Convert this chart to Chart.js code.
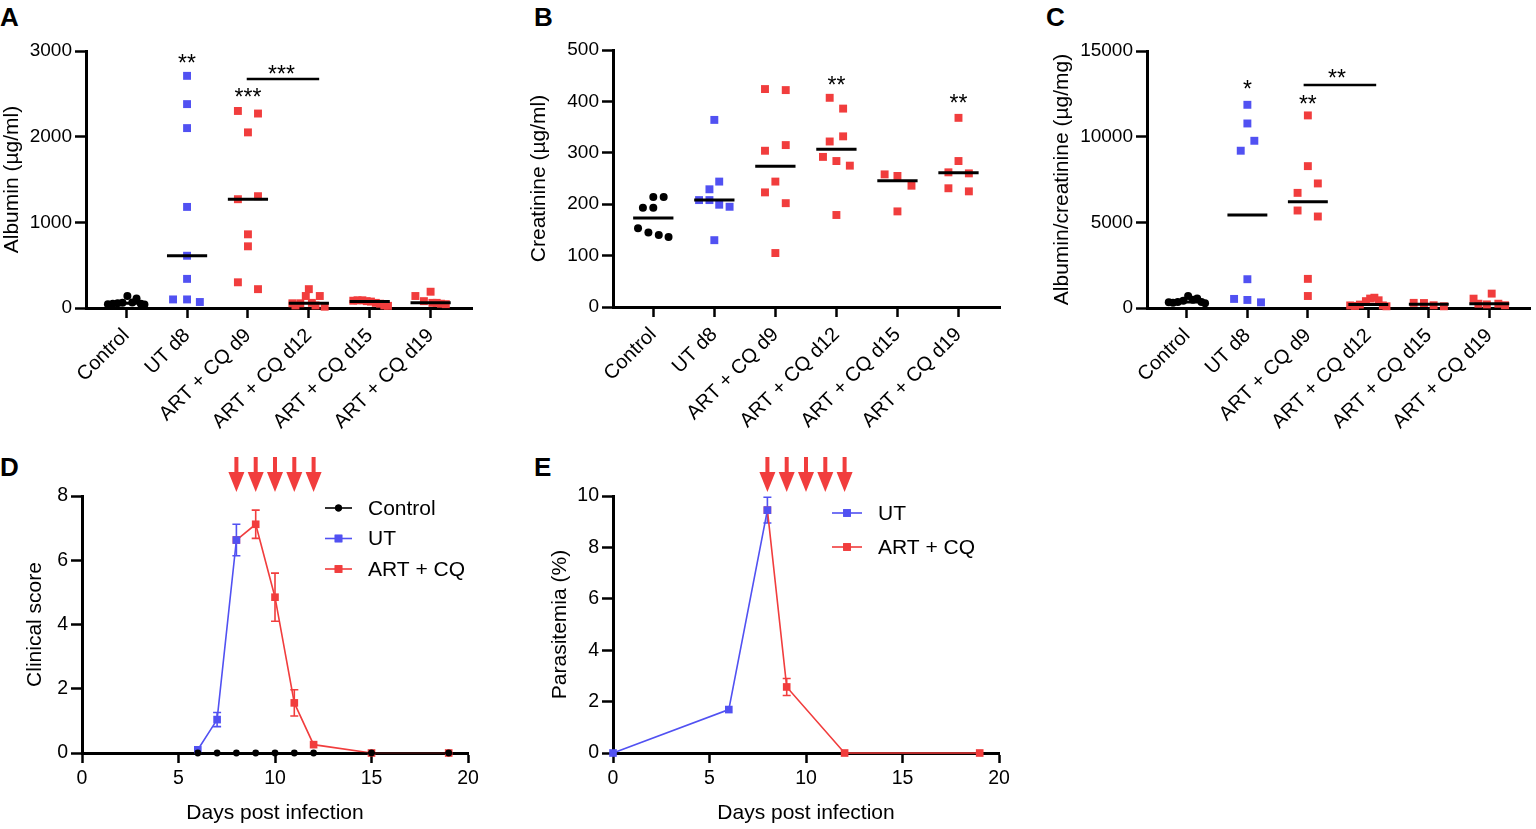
<!DOCTYPE html>
<html>
<head>
<meta charset="utf-8">
<script src="https://cdn.jsdelivr.net/npm/chart.js@4/dist/chart.umd.min.js"></script>
<style>
  body { margin: 0; background: #fff; width: 1536px; height: 829px; position: relative; overflow: hidden; }
  canvas { position: absolute; }
  .tag { position: absolute; font: bold 26px "Liberation Sans", Arial, sans-serif; color: #000; }
</style>
</head>
<body>
<div class="tag" style="left:0px;top:2px">A</div>
<div class="tag" style="left:534px;top:2px">B</div>
<div class="tag" style="left:1046px;top:2px">C</div>
<div class="tag" style="left:0px;top:452px">D</div>
<div class="tag" style="left:534px;top:452px">E</div>
<canvas id="chartA" width="520" height="440" style="left:0;top:0"></canvas>
<canvas id="chartB" width="510" height="440" style="left:520px;top:0"></canvas>
<canvas id="chartC" width="506" height="440" style="left:1030px;top:0"></canvas>
<canvas id="chartD" width="520" height="389" style="left:0;top:440px"></canvas>
<canvas id="chartE" width="510" height="389" style="left:520px;top:440px"></canvas>
<script>
const FONT = '"Liberation Sans", Arial, sans-serif';
const BLUE = '#5151f2';
const RED = '#f13d3d';

// ---- panels A-C: groups ----
const groups = ['Control', 'UT d8', 'ART + CQ d9', 'ART + CQ d12', 'ART + CQ d15', 'ART + CQ d19'];
const groupColors = ['#000000', BLUE, RED, RED, RED, RED];
const groupShapes = ['circle', 'rect', 'rect', 'rect', 'rect', 'rect'];

// albumin (ug/ml)
const albumin = [
  [45, 50, 55, 60, 140, 65, 110, 50, 40],
  [2710, 2380, 2100, 1180, 610, 340, 100, 100, 70],
  [2300, 2270, 2050, 1305, 1270, 860, 720, 300, 220],
  [55, 30, 55, 220, 140, 60, 140, 30, 15],
  [85, 90, 90, 80, 75, 60, 50, 30, 25],
  [140, 190, 80, 60, 60, 50, 45]
];
const albuminJitter = [
  [-0.3, -0.22, -0.14, -0.06, 0.02, 0.1, 0.17, 0.24, 0.3],
  [0, 0, 0, 0, 0, 0, -0.23, 0, 0.21],
  [-0.165, 0.165, 0, 0.165, -0.165, 0, 0, -0.165, 0.165],
  [-0.27, -0.22, -0.14, 0, -0.05, 0.05, 0.18, 0.11, 0.26],
  [-0.27, -0.2, -0.12, -0.05, 0.02, 0.1, 0.17, 0.24, 0.3],
  [-0.25, 0, -0.11, 0.03, 0.1, 0.17, 0.25]
];

// creatinine (ug/ml)
const creatinine = [
  [214, 214, 193, 193, 153, 145, 140, 136],
  [364, 244, 229, 208, 208, 199, 195, 130],
  [424, 422, 315, 304, 244, 223, 202, 105],
  [407, 386, 332, 322, 292, 284, 275, 179],
  [258, 255, 236, 186],
  [368, 284, 262, 260, 231, 225]
];
const creatinineJitter = [
  [0, 0.17, -0.17, 0, -0.25, -0.08, 0.09, 0.25],
  [0, 0.08, -0.08, -0.25, -0.08, 0.08, 0.25, 0],
  [-0.17, 0.17, 0.17, -0.17, 0, -0.17, 0.17, 0],
  [-0.11, 0.11, 0.11, -0.11, -0.22, 0, 0.22, 0],
  [-0.21, 0, 0.23, 0],
  [0, 0, -0.165, 0.17, -0.165, 0.17]
];

// albumin/creatinine (ug/mg)
const ratio = [
  [330, 300, 350, 420, 700, 480, 550, 350, 280],
  [11860, 10770, 9760, 9180, 1680, 530, 470, 330],
  [11240, 8280, 7270, 6720, 5690, 5340, 1700, 700],
  [150, 120, 200, 400, 550, 600, 450, 150, 100],
  [300, 290, 160, 100],
  [545, 840, 250, 210, 250, 160]
];
const ratioJitter = [
  [-0.3, -0.23, -0.15, -0.06, 0.02, 0.1, 0.17, 0.24, 0.3],
  [0, 0, 0.115, -0.11, 0, -0.22, 0, 0.225],
  [0, 0, 0.165, -0.17, -0.17, 0.165, 0, 0],
  [-0.3, -0.22, -0.14, -0.04, 0.03, 0.1, 0.17, 0.24, 0.3],
  [-0.25, -0.08, 0.08, 0.25],
  [-0.26, 0.04, -0.18, -0.04, 0.15, 0.26]
];

// significance marks: [group position, value, text]
const starsA = [[1, 2918, '**'], [2, 2521, '***'], [2.55, 2790, '***']];
const bracketA = [1.98, 3.17, 2673];
const starsB = [[3, 442, '**'], [5, 407, '**']];
const starsC = [[1, 13074, '*'], [2, 12198, '**'], [2.48, 13716, '**']];
const bracketC = [1.93, 3.13, 13015];

// ---- panels D-E: time course ----
const scoreControlDays = [6, 7, 8, 9, 10, 11, 12, 15, 19];
const scoreControl = [0, 0, 0, 0, 0, 0, 0, 0, 0];
const scoreUTDays = [6, 7, 8];
const scoreUT = [0.1, 1.04, 6.63];
const scoreUTErr = [0, 0.22, 0.49];
const scoreARTDays = [8, 9, 10, 11, 12, 15, 19];
const scoreART = [6.63, 7.12, 4.85, 1.56, 0.26, 0, 0];
const scoreARTErr = [0, 0.44, 0.75, 0.41, 0, 0, 0];

const paraUTDays = [0, 6, 8];
const paraUT = [0, 1.69, 9.45];
const paraUTErr = [0, 0, 0.5];
const paraARTDays = [8, 9, 12, 19];
const paraART = [9.45, 2.57, 0, 0];
const paraARTErr = [0, 0.33, 0, 0];

const treatmentDays = [8, 9, 10, 11, 12];

function median(a) {
  const s = [...a].sort((p, q) => p - q);
  const m = Math.floor(s.length / 2);
  return s.length % 2 ? s[m] : (s[m - 1] + s[m]) / 2;
}

const medianPlugin = {
  id: 'medians',
  afterDatasetsDraw(chart, args, opts) {
    const {ctx, scales: {x, y}} = chart;
    ctx.save();
    ctx.strokeStyle = '#000';
    ctx.lineWidth = 3;
    opts.values.forEach((m, g) => {
      ctx.beginPath();
      ctx.moveTo(x.getPixelForValue(g - 0.33), y.getPixelForValue(m));
      ctx.lineTo(x.getPixelForValue(g + 0.33), y.getPixelForValue(m));
      ctx.stroke();
    });
    ctx.restore();
  }
};

const sigPlugin = {
  id: 'sig',
  afterDraw(chart, args, opts) {
    const {ctx, scales: {x, y}} = chart;
    ctx.save();
    ctx.fillStyle = '#000';
    ctx.font = '23px ' + FONT;
    ctx.textAlign = 'center';
    ctx.textBaseline = 'alphabetic';
    (opts.stars || []).forEach(([g, v, t]) => {
      ctx.fillText(t, x.getPixelForValue(g), y.getPixelForValue(v) + 13);
    });
    if (opts.bracket) {
      const [a, b, v] = opts.bracket;
      ctx.strokeStyle = '#000';
      ctx.lineWidth = 2.5;
      ctx.beginPath();
      ctx.moveTo(x.getPixelForValue(a), y.getPixelForValue(v));
      ctx.lineTo(x.getPixelForValue(b), y.getPixelForValue(v));
      ctx.stroke();
    }
    ctx.restore();
  }
};

function axisStyle(extra) {
  return Object.assign({
    border: {display: true, width: 3, color: '#000'},
    grid: {drawOnChartArea: false, drawTicks: true, tickLength: 10, tickWidth: 2.5, tickColor: '#000'}
  }, extra);
}

function dotPanel(id, data, jitter, yMax, yStep, yTitle, titlePad, area, stars, bracket) {
  const datasets = data.map((vals, g) => ({
    data: vals.map((v, k) => ({x: g + jitter[g][k], y: v})),
    pointStyle: groupShapes[g],
    pointRadius: g === 0 ? 4 : 5.6,
    backgroundColor: groupColors[g],
    borderColor: groupColors[g],
    borderWidth: 0,
    clip: false
  }));
  new Chart(document.getElementById(id), {
    type: 'scatter',
    data: {datasets},
    options: {
      responsive: false,
      animation: false,
      layout: {padding: {left: 0, top: area.top, right: area.right, bottom: 0}},
      plugins: {
        legend: {display: false},
        tooltip: {enabled: false},
        medians: {values: data.map(median)},
        sig: {stars, bracket}
      },
      scales: {
        x: axisStyle({
          type: 'linear', min: -0.66, max: 5.68,
          afterBuildTicks: s => { s.ticks = groups.map((_, i) => ({value: i})); },
          afterFit: s => { s.height = area.xh; },
          ticks: {
            autoSkip: false, minRotation: 45, maxRotation: 45, padding: 6,
            color: '#000', font: {family: FONT, size: 20},
            callback: v => groups[v]
          }
        }),
        y: axisStyle({
          min: 0, max: yMax,
          afterFit: s => { s.width = area.left; },
          ticks: {stepSize: yStep, padding: 3, color: '#000', font: {family: FONT, size: 19}, callback: v => String(v)},
          grid: {drawOnChartArea: false, tickLength: 11, tickWidth: 2.5, tickColor: '#000'},
          title: {display: true, text: yTitle, color: '#000', font: {family: FONT, size: 21}, padding: {top: titlePad, bottom: 0}}
        })
      }
    },
    plugins: [medianPlugin, sigPlugin]
  });
}

dotPanel('chartA', albumin, albuminJitter, 3000, 1000, 'Albumin (µg/ml)', 0,
  {left: 86, right: 48, top: 51, xh: 132}, starsA, bracketA);
dotPanel('chartB', creatinine, creatinineJitter, 500, 100, 'Creatinine (µg/ml)', 7,
  {left: 93, right: 30, top: 50, xh: 133}, starsB, null);
dotPanel('chartC', ratio, ratioJitter, 15000, 5000, 'Albumin/creatinine (µg/mg)', 20,
  {left: 117, right: 4, top: 51, xh: 132}, starsC, bracketC);

// ---- time course panels ----
const errorBarPlugin = {
  id: 'errorBars',
  beforeDatasetsDraw(chart) {
    const {ctx, scales: {x, y}} = chart;
    ctx.save();
    ctx.lineWidth = 1.6;
    chart.data.datasets.forEach(ds => {
      if (!ds.errors) return;
      ctx.strokeStyle = ds.borderColor;
      ds.data.forEach((p, i) => {
        const e = ds.errors[i];
        if (!e) return;
        const px = x.getPixelForValue(p.x);
        const top = y.getPixelForValue(p.y + e);
        const bot = y.getPixelForValue(p.y - e);
        ctx.beginPath();
        ctx.moveTo(px, top); ctx.lineTo(px, bot);
        ctx.moveTo(px - 4, top); ctx.lineTo(px + 4, top);
        ctx.moveTo(px - 4, bot); ctx.lineTo(px + 4, bot);
        ctx.stroke();
      });
    });
    ctx.restore();
  }
};

const arrowPlugin = {
  id: 'arrows',
  afterDraw(chart, args, opts) {
    const {ctx, scales: {x}} = chart;
    ctx.save();
    ctx.fillStyle = RED;
    opts.days.forEach(d => {
      const px = x.getPixelForValue(d);
      ctx.fillRect(px - 2, opts.top, 4, opts.headTop - opts.top + 1);
      ctx.beginPath();
      ctx.moveTo(px - 8, opts.headTop);
      ctx.lineTo(px + 8, opts.headTop);
      ctx.lineTo(px, opts.tip);
      ctx.closePath();
      ctx.fill();
    });
    ctx.restore();
  }
};

const legendPlugin = {
  id: 'boxLegend',
  afterDraw(chart, args, opts) {
    const ctx = chart.ctx;
    ctx.save();
    ctx.font = '21px ' + FONT;
    ctx.textBaseline = 'middle';
    ctx.textAlign = 'left';
    chart.data.datasets.forEach((ds, i) => {
      const yy = opts.y0 + i * opts.dy;
      ctx.strokeStyle = ds.borderColor;
      ctx.lineWidth = 1.6;
      ctx.beginPath();
      ctx.moveTo(opts.x0, yy); ctx.lineTo(opts.x1, yy);
      ctx.stroke();
      ctx.fillStyle = ds.backgroundColor;
      Chart.helpers.drawPoint(ctx, {pointStyle: ds.pointStyle, radius: ds.pointRadius, borderWidth: 0, rotation: 0},
        (opts.x0 + opts.x1) / 2, yy);
      ctx.fill();
      ctx.fillStyle = '#000';
      ctx.fillText(ds.label, opts.tx, yy + 1);
    });
    ctx.restore();
  }
};

function series(label, days, vals, errs, color, shape, r) {
  return {
    label,
    data: days.map((d, i) => ({x: d, y: vals[i]})),
    errors: errs,
    showLine: true,
    borderColor: color,
    backgroundColor: color,
    borderWidth: 1.6,
    pointStyle: shape,
    pointRadius: r,
    pointBorderWidth: 0,
    clip: false
  };
}

function timePanel(id, datasets, yMax, yTitle, titlePad, area, legend) {
  new Chart(document.getElementById(id), {
    type: 'scatter',
    data: {datasets},
    options: {
      responsive: false,
      animation: false,
      layout: {padding: {left: 0, top: area.top, right: area.right, bottom: 0}},
      plugins: {
        legend: {display: false},
        tooltip: {enabled: false},
        arrows: {days: treatmentDays, top: 17, headTop: 32, tip: 52},
        boxLegend: legend
      },
      scales: {
        x: axisStyle({
          type: 'linear', min: 0, max: 20,
          afterFit: s => { s.height = area.xh; },
          ticks: {stepSize: 5, padding: 4, color: '#000', font: {family: FONT, size: 19.5}, callback: v => String(v)},
          title: {display: true, text: 'Days post infection', color: '#000', font: {family: FONT, size: 21}, padding: {top: 0, bottom: 3}}
        }),
        y: axisStyle({
          min: 0, max: yMax,
          afterFit: s => { s.width = area.left; },
          ticks: {stepSize: 2, padding: 3, color: '#000', font: {family: FONT, size: 19.5}, callback: v => String(v)},
          grid: {drawOnChartArea: false, tickLength: 11, tickWidth: 2.5, tickColor: '#000'},
          title: {display: true, text: yTitle, color: '#000', font: {family: FONT, size: 21}, padding: {top: titlePad, bottom: 0}}
        })
      }
    },
    plugins: [errorBarPlugin, arrowPlugin, legendPlugin]
  });
}

timePanel('chartD', [
  series('Control', scoreControlDays, scoreControl, null, '#000000', 'circle', 3.4),
  series('UT', scoreUTDays, scoreUT, scoreUTErr, BLUE, 'rect', 5.4),
  series('ART + CQ', scoreARTDays, scoreART, scoreARTErr, RED, 'rect', 5.4)
], 8, 'Clinical score', 23, {left: 82, right: 52, top: 56, xh: 76},
  {x0: 325, x1: 352, tx: 368, y0: 68, dy: 30.5});

timePanel('chartE', [
  series('UT', paraUTDays, paraUT, paraUTErr, BLUE, 'rect', 5.4),
  series('ART + CQ', paraARTDays, paraART, paraARTErr, RED, 'rect', 5.4)
], 10, 'Parasitemia (%)', 28, {left: 93, right: 31, top: 56, xh: 76},
  {x0: 312, x1: 342, tx: 358, y0: 73, dy: 34});
</script>
</body>
</html>
